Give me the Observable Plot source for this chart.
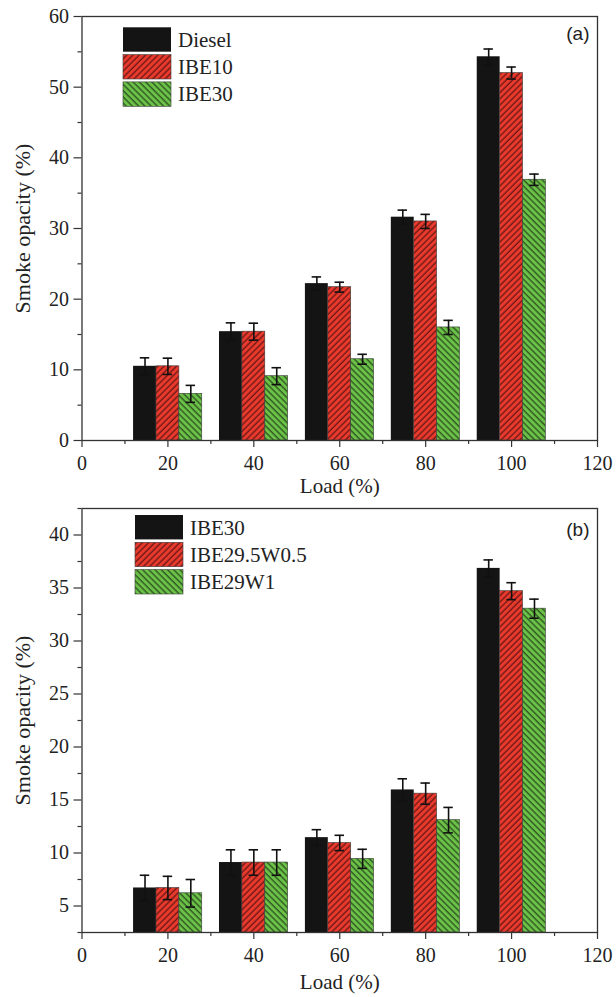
<!DOCTYPE html>
<html>
<head>
<meta charset="utf-8">
<script src="https://cdn.jsdelivr.net/npm/d3@7"></script>
<script src="https://cdn.jsdelivr.net/npm/@observablehq/plot@0.6"></script>
<style>
  html, body { margin: 0; padding: 0; background: #fff; }
  #chart { width: 616px; }
  #chart svg { display: block; }
</style>
</head>
<body>
<div id="chart"></div>
<script>
// ---------- data ----------
const loads = [20, 40, 60, 80, 100];

// panel (a)
const seriesA = ["Diesel", "IBE10", "IBE30"];
const dieselA    = [10.5, 15.4, 22.2, 31.6, 54.3];
const dieselAErr = [1.2, 1.25, 0.95, 1.0, 1.1];
const ibe10A     = [10.5, 15.4, 21.7, 31.0, 52.0];
const ibe10AErr  = [1.15, 1.2, 0.7, 1.0, 0.85];
const ibe30A     = [6.6, 9.1, 11.5, 16.0, 36.9];
const ibe30AErr  = [1.2, 1.2, 0.7, 1.0, 0.8];

// panel (b)
const seriesB = ["IBE30", "IBE29.5W0.5", "IBE29W1"];
const ibe30B     = [6.7, 9.1, 11.45, 15.95, 36.85];
const ibe30BErr  = [1.2, 1.2, 0.75, 1.05, 0.8];
const ibe295B    = [6.7, 9.1, 10.95, 15.6, 34.7];
const ibe295BErr = [1.1, 1.2, 0.72, 1.0, 0.8];
const ibe29B     = [6.2, 9.1, 9.45, 13.1, 33.05];
const ibe29BErr  = [1.3, 1.2, 0.9, 1.2, 0.9];

// axes
const xMajor = [0, 20, 40, 60, 80, 100, 120];
const xMinor = [10, 30, 50, 70, 90, 110];
const yMajorA = [0, 10, 20, 30, 40, 50, 60];
const yMinorA = [5, 15, 25, 35, 45, 55];
const yMajorB = [5, 10, 15, 20, 25, 30, 35, 40];
const yMinorB = [2.5, 7.5, 12.5, 17.5, 22.5, 27.5, 32.5, 37.5, 42.5];

// ---------- styling ----------
const BAR_W = 5.33;   // bar width in load units
const CAP = 1.1;      // half cap width in load units
const fills = [
  {base: "#141414", line: null},
  {base: "#ea3a2e", line: "#5c1510", dir: 45},
  {base: "#6cc248", line: "#24451a", dir: -45}
];
const serif = "'Liberation Serif', 'Times New Roman', serif";
const sans = "'Liberation Sans', Arial, sans-serif";

function buildRows(valueArrays, errArrays) {
  const rows = [];
  valueArrays.forEach((vals, j) => {
    vals.forEach((v, i) => {
      rows.push({load: loads[i], j, value: v, err: errArrays[j][i]});
    });
  });
  return rows;
}

function panel(opts) {
  const {id, names, values, errs, yDomain, yMajor, yMinor, height, marginTop, marginBottom, tag, tagDy, legend} = opts;
  const rows = buildRows(values, errs);
  const cx = d => d.load + (d.j - 1) * BAR_W;
  const fillFor = j => fills[j].line ? `url(#${id}-p${j})` : fills[j].base;

  const barMarks = [0, 1, 2].map(j =>
    Plot.rectY(rows.filter(d => d.j === j), {
      x1: d => cx(d) - BAR_W / 2,
      x2: d => cx(d) + BAR_W / 2,
      y1: yDomain[0],
      y2: "value",
      fill: fillFor(j),
      stroke: j === 0 ? "none" : "#3a3a3a",
      strokeWidth: 0.6
    })
  );

  const svg = Plot.plot({
    width: 616,
    height,
    marginLeft: 81.5,
    marginRight: 19,
    marginTop,
    marginBottom,
    style: {fontFamily: serif, fontSize: "20px", color: "#222", background: "#fff"},
    x: {domain: [0, 120]},
    y: {domain: yDomain},
    marks: [
      ...barMarks,
      Plot.ruleX(rows, {x: cx, y1: d => d.value - d.err, y2: d => d.value + d.err, stroke: "#111", strokeWidth: 1.6}),
      Plot.ruleY(rows, {y: d => d.value + d.err, x1: d => cx(d) - CAP, x2: d => cx(d) + CAP, stroke: "#111", strokeWidth: 1.6}),
      Plot.ruleY(rows, {y: d => d.value - d.err, x1: d => cx(d) - CAP, x2: d => cx(d) + CAP, stroke: "#111", strokeWidth: 1.6}),
      Plot.axisX({ticks: xMajor, tickSize: 7, tickPadding: 8, label: null, stroke: "#333", strokeWidth: 1.2, fill: "#222", fontSize: 20}),
      Plot.axisX({ticks: xMinor, tickSize: 4, tickFormat: () => "", label: null, stroke: "#333", strokeWidth: 1.2}),
      Plot.axisY({ticks: yMajor, tickSize: 8, tickPadding: 5, label: null, stroke: "#333", strokeWidth: 1.2, fill: "#222", fontSize: 20}),
      Plot.axisY({ticks: yMinor, tickSize: 4, tickFormat: () => "", label: null, stroke: "#333", strokeWidth: 1.2}),
      Plot.frame({stroke: "#333", strokeWidth: 1.3}),
      Plot.text(["Load (%)"], {frameAnchor: "bottom", textAnchor: "middle", lineAnchor: "top", dy: opts.xLabelDy, fontSize: 21, fill: "#222"}),
      Plot.text(["Smoke opacity (%)"], {frameAnchor: "left", textAnchor: "middle", rotate: -90, dx: -59, fontSize: 22, fill: "#222"}),
      Plot.text([tag], {frameAnchor: "top-right", textAnchor: "end", lineAnchor: "middle", dx: -8, dy: tagDy, fontFamily: sans, fontSize: 19, fill: "#222"})
    ]
  });

  // pattern defs
  const s = d3.select(svg);
  const defs = s.insert("defs", ":first-child");
  [1, 2].forEach(j => {
    const f = fills[j];
    const p = defs.append("pattern")
      .attr("id", `${id}-p${j}`)
      .attr("patternUnits", "userSpaceOnUse")
      .attr("width", 4.4).attr("height", 4.4)
      .attr("patternTransform", `rotate(${f.dir})`);
    p.append("rect").attr("width", 4.4).attr("height", 4.4).attr("fill", f.base);
    p.append("line").attr("x1", 1).attr("x2", 1).attr("y1", 0).attr("y2", 4.4)
      .attr("stroke", f.line).attr("stroke-width", 1.2);
  });

  // legend
  const g = s.append("g");
  names.forEach((name, j) => {
    const y = legend.y + j * 27.3;
    g.append("rect").attr("x", legend.x).attr("y", y).attr("width", 48).attr("height", 24.4)
      .attr("fill", fillFor(j)).attr("stroke", j === 0 ? "none" : "#3a3a3a").attr("stroke-width", 0.6);
    g.append("text").attr("x", legend.x + 55).attr("y", y + 12.2).attr("dy", "0.35em")
      .attr("text-anchor", "start")
      .attr("font-family", serif).attr("font-size", 21).attr("fill", "#222").text(name);
  });
  return svg;
}

const chart = document.getElementById("chart");
chart.appendChild(panel({
  id: "pa", names: seriesA,
  values: [dieselA, ibe10A, ibe30A], errs: [dieselAErr, ibe10AErr, ibe30AErr],
  yDomain: [0, 60], yMajor: yMajorA, yMinor: yMinorA,
  height: 497, marginTop: 16, marginBottom: 57, xLabelDy: 38,
  tag: "(a)", tagDy: 17,
  legend: {x: 123, y: 27.3}
}));
chart.appendChild(panel({
  id: "pb", names: seriesB,
  values: [ibe30B, ibe295B, ibe29B], errs: [ibe30BErr, ibe295BErr, ibe29BErr],
  yDomain: [2.5, 42.5], yMajor: yMajorB, yMinor: yMinorB,
  height: 500, marginTop: 11, marginBottom: 65, xLabelDy: 42,
  tag: "(b)", tagDy: 21,
  legend: {x: 135, y: 18}
}));
</script>
</body>
</html>
